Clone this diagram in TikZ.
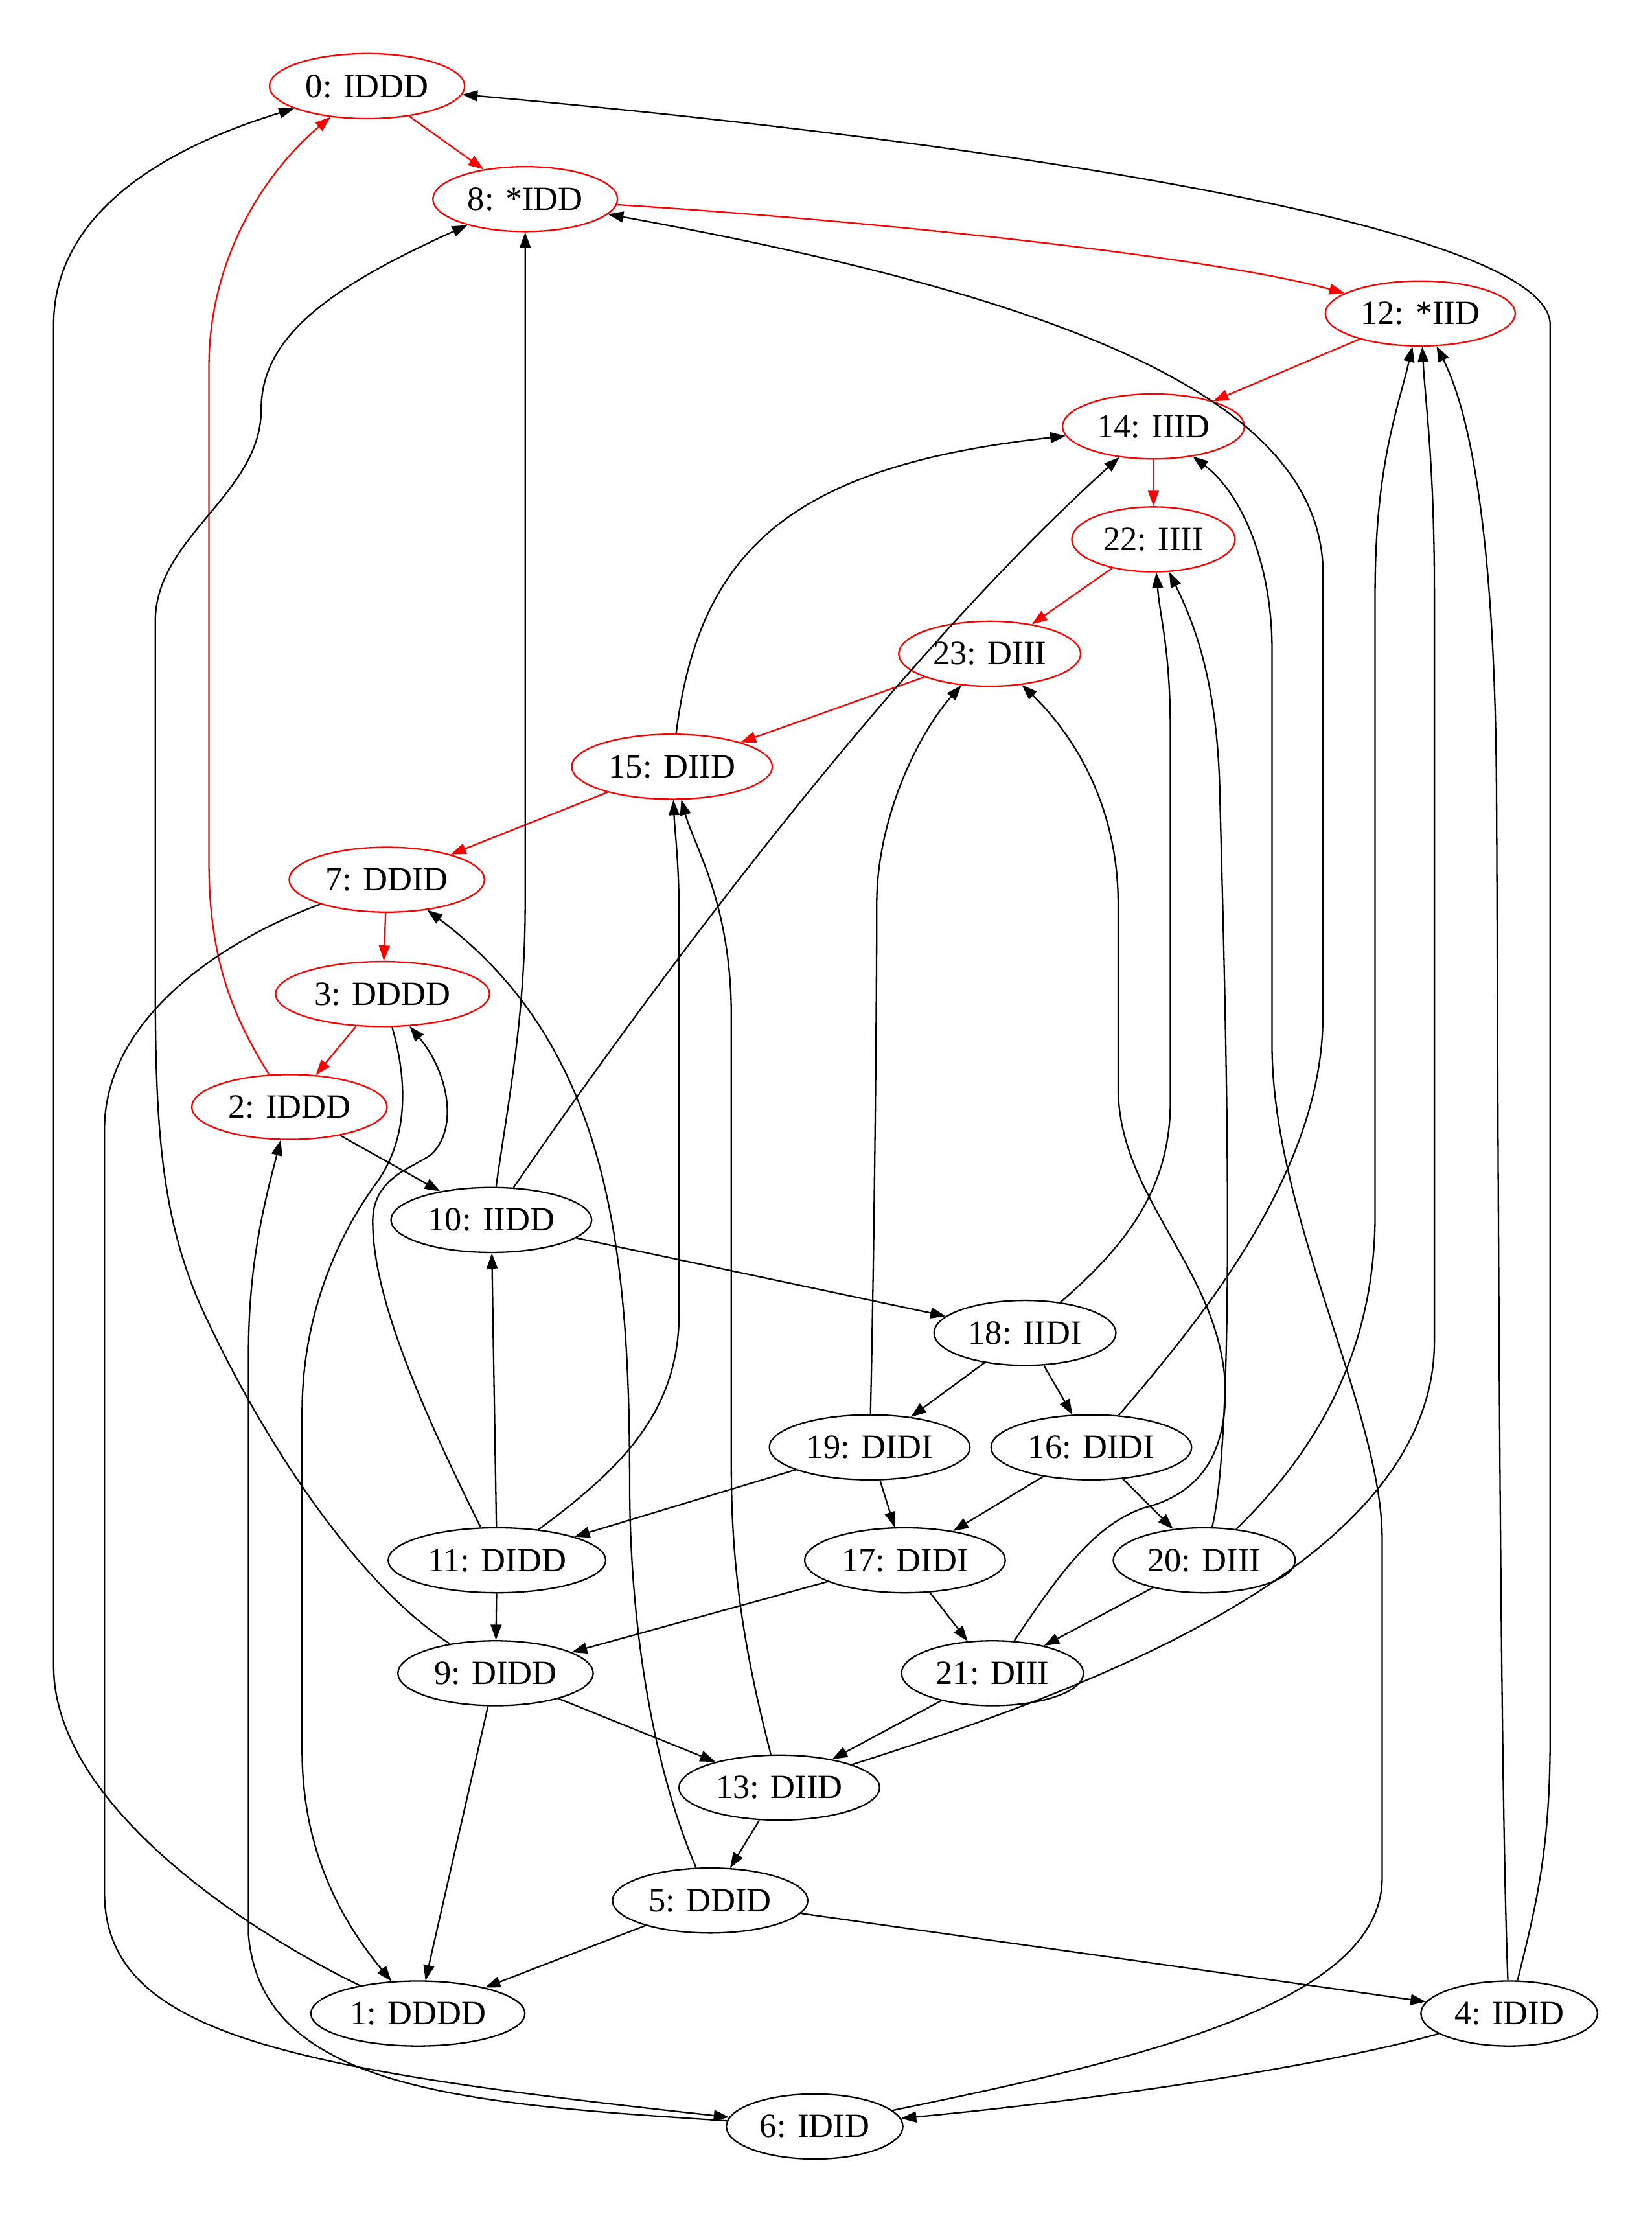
\documentclass[tikz,border=0pt]{standalone}
\usepackage{fontspec}
\setmainfont{Liberation Serif}
\usepackage{tikz}
\usetikzlibrary{shapes.geometric,arrows.meta}

\begin{document}
\begin{tikzpicture}[
    x=0.02cm, y=-0.02cm,
    st/.style={ellipse, draw, line width=0.6pt, inner xsep=3.1pt, inner ysep=0pt, minimum height=0.92cm, font=\fontsize{13.7}{16}\selectfont},
    rst/.style={st, draw=red},
    arrow/.style={-{Triangle[length=6.2pt,width=4.4pt]}, line width=0.6pt},
    rarrow/.style={arrow, red}
]
  \useasboundingbox (0,0) rectangle (1170,1568);

  % states on the red cycle
  \node[rst] (n0)  at (260,61)    {0: IDDD};
  \node[rst] (n8)  at (372,141)   {8: *IDD};
  \node[rst] (n12) at (1006,222)  {12: *IID};
  \node[rst] (n14) at (817,302)   {14: IIID};
  \node[rst] (n22) at (817,382)   {22: IIII};
  \node[rst] (n23) at (701,463)   {23: DIII};
  \node[rst] (n15) at (476,543)   {15: DIID};
  \node[rst] (n7)  at (274,623)   {7: DDID};
  \node[rst] (n3)  at (271,704)   {3: DDDD};
  \node[rst] (n2)  at (205,784)   {2: IDDD};

  % the other states
  \node[st] (n10) at (348,864)   {10: IIDD};
  \node[st] (n18) at (726,944)   {18: IIDI};
  \node[st] (n19) at (616,1025)  {19: DIDI};
  \node[st] (n16) at (773,1025)  {16: DIDI};
  \node[st] (n11) at (352,1105)  {11: DIDD};
  \node[st] (n17) at (641,1105)  {17: DIDI};
  \node[st] (n20) at (853,1105)  {20: DIII};
  \node[st] (n9)  at (351,1185)  {9: DIDD};
  \node[st] (n21) at (703,1185)  {21: DIII};
  \node[st] (n13) at (552,1266)  {13: DIID};
  \node[st] (n5)  at (503,1346)  {5: DDID};
  \node[st] (n1)  at (296,1426)  {1: DDDD};
  \node[st] (n4)  at (1069,1426) {4: IDID};
  \node[st] (n6)  at (577,1506)  {6: IDID};

  % red cycle
  \draw[rarrow] (n0) -- (n8);
  \draw[rarrow] (n8) .. controls (600,155) and (850,180) .. (n12);
  \draw[rarrow] (n12) -- (n14);
  \draw[rarrow] (n14) -- (n22);
  \draw[rarrow] (n22) -- (n23);
  \draw[rarrow] (n23) -- (n15);
  \draw[rarrow] (n15) -- (n7);
  \draw[rarrow] (n7) -- (n3);
  \draw[rarrow] (n3) -- (n2);
  \draw[rarrow] (n2) .. controls (165,720) and (148,680) .. (148,610) -- (148,260) .. controls (148,180) and (190,120) .. (n0);

  % short edges
  \draw[arrow] (n2) -- (n10);
  \draw[arrow] (n11) -- (n10);
  \draw[arrow] (n10) -- (n18);
  \draw[arrow] (n18) -- (n19);
  \draw[arrow] (n18) -- (n16);
  \draw[arrow] (n19) -- (n11);
  \draw[arrow] (n19) -- (n17);
  \draw[arrow] (n16) -- (n17);
  \draw[arrow] (n16) -- (n20);
  \draw[arrow] (n11) -- (n9);
  \draw[arrow] (n17) -- (n9);
  \draw[arrow] (n17) -- (n21);
  \draw[arrow] (n20) -- (n21);
  \draw[arrow] (n9) -- (n13);
  \draw[arrow] (n9) -- (n1);
  \draw[arrow] (n21) -- (n13);
  \draw[arrow] (n13) -- (n5);
  \draw[arrow] (n5) -- (n1);
  \draw[arrow] (n5) -- (n4);
  \draw[arrow] (n4) .. controls (950,1460) and (800,1485) .. (n6);

  % long edges up the left side
  \draw[arrow] (n1) .. controls (180,1370) and (38,1280) .. (38,1180) -- (38,230) .. controls (38,160) and (100,110) .. (n0);
  \draw[arrow] (n9) .. controls (250,1120) and (180,1010) .. (140,920) .. controls (115,860) and (110,800) .. (110,700) -- (110,440) .. controls (110,380) and (185,350) .. (185,290) .. controls (185,240) and (230,205) .. (n8);
  \draw[arrow] (n7) .. controls (160,665) and (74,720) .. (74,800) -- (74,1340) .. controls (74,1440) and (200,1465) .. (n6);
  \draw[arrow] (n6) .. controls (330,1490) and (185,1480) .. (176,1370) -- (176,960) .. controls (176,900) and (185,860) .. (n2);
  \draw[arrow] (n3) .. controls (290,770) and (288,810) .. (265,840) .. controls (240,875) and (214,930) .. (214,1000) -- (214,1240) .. controls (214,1320) and (250,1370) .. (n1);
  \draw[arrow] (n11) .. controls (300,1000) and (264,920) .. (264,865) .. controls (264,835) and (290,828) .. (305,818) .. controls (325,800) and (318,760) .. (n3);

  % middle
  \draw[arrow] (n10) .. controls (360,780) and (372,720) .. (372,640) -- (n8);
  \draw[arrow] (n10) .. controls (440,730) and (620,480) .. (n14);
  \draw[arrow] (n15) .. controls (495,390) and (560,330) .. (n14);
  \draw[arrow] (n11) .. controls (440,1040) and (481,1000) .. (481,930) -- (481,650) .. controls (481,610) and (478,590) .. (n15);
  \draw[arrow] (n13) .. controls (530,1180) and (518,1120) .. (518,1040) -- (518,720) .. controls (518,640) and (492,600) .. (n15);
  \draw[arrow] (n5) .. controls (462,1250) and (446,1150) .. (446,1050) .. controls (446,880) and (430,740) .. (n7);
  \draw[arrow] (n19) .. controls (619,900) and (621,720) .. (621,640) .. controls (621,580) and (650,520) .. (n23);
  \draw[arrow] (n21) .. controls (750,1115) and (775,1080) .. (810,1068) .. controls (850,1058) and (868,1030) .. (868,985) .. controls (866,900) and (792,850) .. (792,770) -- (792,640) .. controls (792,570) and (760,520) .. (n23);
  \draw[arrow] (n18) .. controls (800,880) and (829,840) .. (829,780) -- (829,520) .. controls (829,460) and (822,440) .. (n22);
  \draw[arrow] (n20) .. controls (878,1000) and (866,650) .. (864,560) .. controls (862,480) and (845,440) .. (n22);

  % long edges up the right side
  \draw[arrow] (n16) .. controls (850,935) and (937,830) .. (937,720) -- (937,400) .. controls (930,280) and (750,210) .. (n8);
  \draw[arrow] (n6) .. controls (800,1460) and (979,1420) .. (979,1330) -- (979,1090) .. controls (979,1000) and (901,860) .. (901,740) -- (901,460) .. controls (901,400) and (880,350) .. (n14);
  \draw[arrow] (n20) .. controls (930,1030) and (974,960) .. (974,860) -- (974,420) .. controls (974,330) and (990,290) .. (n12);
  \draw[arrow] (n13) .. controls (760,1200) and (1016,1110) .. (1016,950) -- (1016,420) .. controls (1016,330) and (1010,290) .. (n12);
  \draw[arrow] (n4) .. controls (1062,1250) and (1061,750) .. (1060,560) .. controls (1059,400) and (1045,300) .. (n12);
  \draw[arrow] (n4) .. controls (1088,1350) and (1098,1310) .. (1098,1230) -- (1098,230) .. controls (1098,160) and (700,100) .. (n0);
\end{tikzpicture}
\end{document}
